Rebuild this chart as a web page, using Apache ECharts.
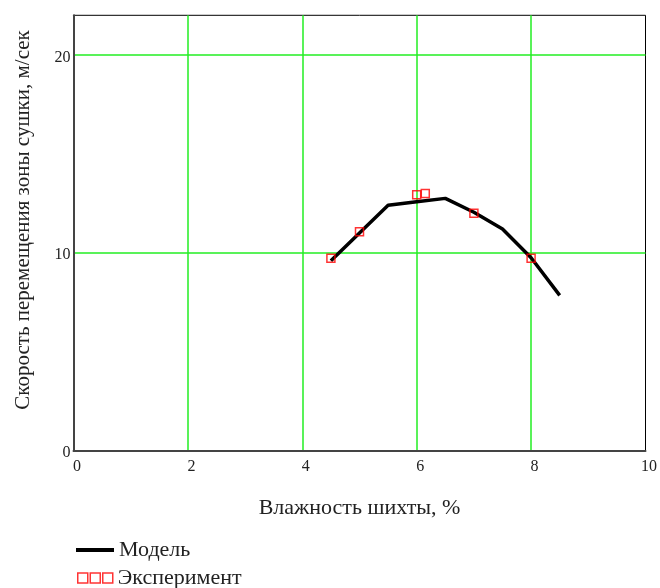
<!DOCTYPE html>
<html>
<head>
<meta charset="utf-8">
<script src="https://cdn.jsdelivr.net/npm/echarts@6/dist/echarts.min.js"></script>
<style>
html,body{margin:0;padding:0;background:#fff;}
#chart{width:660px;height:588px;}
</style>
</head>
<body>
<div id="chart"></div>
<script>
// Model curve
var modelX = [4.5, 5, 5.5, 6, 6.5, 7, 7.5, 8, 8.5];
var modelY = [9.6, 11.0, 12.4, 12.58, 12.75, 12.05, 11.2, 9.75, 7.85];
// Experiment points
var expX = [4.5, 5, 6, 6.15, 7, 8];
var expY = [9.72, 11.06, 12.93, 13.0, 12.0, 9.72];
// Axis ticks
var xTicks = [0, 2, 4, 6, 8, 10];
var yTicks = [0, 10, 20];

var serif = '"Liberation Serif","DejaVu Serif",serif';
var green = '#22ee22';

function pairs(xs, ys){ return xs.map(function(x,i){ return [x, ys[i]]; }); }

var chart = echarts.init(document.getElementById('chart'), null, {renderer:'canvas'});
chart.setOption({
  animation: false,
  backgroundColor: '#fff',
  grid: {
    left: 73.5, right: 14, top: 15.3, bottom: 137.3,
    show: true, borderColor: '#000', borderWidth: 1, backgroundColor: 'transparent'
  },
  xAxis: {
    type: 'value', min: 0, max: 10, interval: 2,
    name: 'Влажность шихты, %', nameLocation: 'middle', nameGap: 47,
    nameTextStyle: {fontFamily: serif, fontSize: 22, color: '#222'},
    axisLine: {show: true, onZero: false, lineStyle: {color: '#444', width: 2}},
    axisTick: {show: false},
    axisLabel: {fontFamily: serif, fontSize: 16, color: '#222', margin: 8, padding: [0,0,0,7],
      formatter: function(v){ return xTicks.indexOf(v) >= 0 ? String(v) : ''; }},
    splitLine: {show: true, showMinLine: false, showMaxLine: false, lineStyle: {color: green, width: 1.5}}
  },
  yAxis: {
    type: 'value', min: 0, max: 22, interval: 10,
    name: 'Скорость перемещения зоны сушки, м/сек', nameLocation: 'middle', nameGap: 40,
    nameTextStyle: {fontFamily: serif, fontSize: 21, color: '#222', padding: [0,0,0,26]},
    axisLine: {show: true, onZero: false, lineStyle: {color: '#444', width: 2}},
    axisTick: {show: false},
    axisLabel: {fontFamily: serif, fontSize: 16, color: '#222', margin: 3, showMaxLabel: false,
      formatter: function(v){ return yTicks.indexOf(v) >= 0 ? '{p|' + v + '}' : ''; },
      rich: {p: {fontFamily: serif, fontSize: 16, color: '#222', padding: [5,0,0,0]}}},
    splitLine: {show: true, showMinLine: false, showMaxLine: false, lineStyle: {color: green, width: 1.5}}
  },
  legend: [
    {
      data: ['Модель'], orient: 'vertical', left: 71, top: 534,
      icon: 'rect', itemWidth: 38, itemHeight: 4,
      textStyle: {fontFamily: serif, fontSize: 22, color: '#222'},
      itemStyle: {color: '#000'}
    },
    {
      data: ['Эксперимент'], orient: 'vertical', left: 72, top: 562,
      icon: 'path://M0,0H10V10H0Z M12.5,0H22.5V10H12.5Z M25,0H35V10H25Z',
      itemWidth: 35, itemHeight: 10,
      textStyle: {fontFamily: serif, fontSize: 22, color: '#222'},
      itemStyle: {color: 'rgba(0,0,0,0)', borderColor: '#ff0000', borderWidth: 1.5}
    }
  ],
  series: [
    {
      name: 'Модель', type: 'line', data: pairs(modelX, modelY),
      showSymbol: false, symbol: 'none',
      lineStyle: {color: '#000', width: 3.5},
      itemStyle: {color: '#000'}, z: 3
    },
    {
      name: 'Эксперимент', type: 'scatter', data: pairs(expX, expY),
      symbol: 'rect', symbolSize: 8,
      itemStyle: {color: 'rgba(0,0,0,0)', borderColor: '#ff0000', borderWidth: 1.5}, z: 4
    }
  ]
});
</script>
</body>
</html>
